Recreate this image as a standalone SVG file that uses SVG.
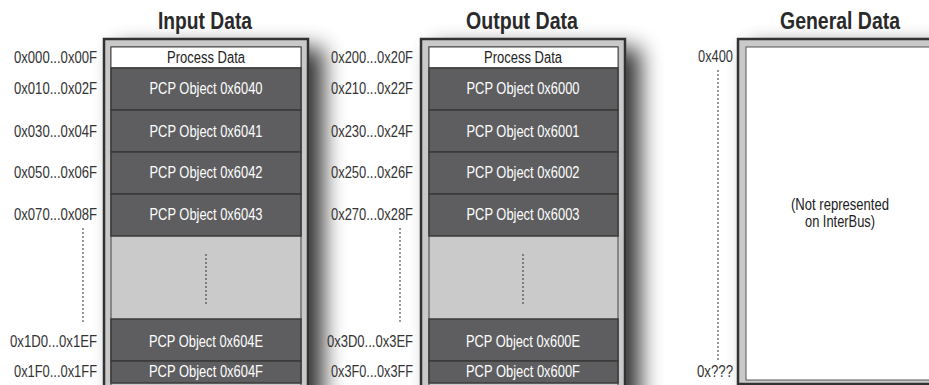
<svg xmlns="http://www.w3.org/2000/svg" width="929" height="385" viewBox="0 0 929 385">
<defs>
<filter id="sh" x="-20%" y="-20%" width="160%" height="160%">
<feGaussianBlur in="SourceAlpha" stdDeviation="11"/>
<feOffset dx="14" dy="10" result="b"/>
<feComponentTransfer><feFuncA type="linear" slope="0.8"/></feComponentTransfer>
<feMerge><feMergeNode/><feMergeNode in="SourceGraphic"/></feMerge>
</filter>
</defs>
<style>
text{font-family:"Liberation Sans",Arial,sans-serif;}
.title{font-size:24px;font-weight:bold;fill:#2a2a2a;text-anchor:middle;}
.lbl{font-size:16px;fill:#333;text-anchor:end;}
.frame{fill:#c9c9c9;stroke:#333;stroke-width:2.5;}
.inner{fill:#cacaca;stroke:#444;stroke-width:1;}
.pd{fill:#fff;stroke:#444;stroke-width:1;}
.row{fill:#5e5e60;stroke:#3a3a3a;stroke-width:1.5;}
.rt{font-size:16px;fill:#fff;text-anchor:middle;}
.pt{font-size:16px;fill:#222;text-anchor:middle;}
.dot{stroke:#333;stroke-width:1;stroke-dasharray:2,2;fill:none;}
</style>
<rect width="929" height="385" fill="#fff"/>
<text class="title" x="205" y="29" textLength="94" lengthAdjust="spacingAndGlyphs">Input Data</text>
<text class="title" x="522" y="29" textLength="112" lengthAdjust="spacingAndGlyphs">Output Data</text>
<text class="title" x="840" y="29" textLength="120" lengthAdjust="spacingAndGlyphs">General Data</text>

<g id="input">
<rect class="frame" x="104" y="39" width="204" height="360" filter="url(#sh)"/>
<rect class="inner" x="111" y="47" width="190" height="345"/>
<rect class="pd" x="111" y="47" width="190" height="21"/>
<text class="pt" x="206" y="63" textLength="78" lengthAdjust="spacingAndGlyphs">Process Data</text>
<rect class="row" x="111" y="68" width="190" height="42"/>
<text class="rt" x="206" y="94" textLength="113" lengthAdjust="spacingAndGlyphs">PCP Object 0x6040</text>
<rect class="row" x="111" y="110" width="190" height="42"/>
<text class="rt" x="206" y="137" textLength="113" lengthAdjust="spacingAndGlyphs">PCP Object 0x6041</text>
<rect class="row" x="111" y="152" width="190" height="42"/>
<text class="rt" x="206" y="178" textLength="113" lengthAdjust="spacingAndGlyphs">PCP Object 0x6042</text>
<rect class="row" x="111" y="194" width="190" height="42"/>
<text class="rt" x="206" y="220" textLength="113" lengthAdjust="spacingAndGlyphs">PCP Object 0x6043</text>
<line class="dot" x1="206" y1="254" x2="206" y2="305"/>
<rect class="row" x="111" y="319" width="190" height="42"/>
<text class="rt" x="206" y="347" textLength="114" lengthAdjust="spacingAndGlyphs">PCP Object 0x604E</text>
<rect class="row" x="111" y="361" width="190" height="22"/>
<text class="rt" x="206" y="377" textLength="114" lengthAdjust="spacingAndGlyphs">PCP Object 0x604F</text>
</g>

<g id="output">
<rect class="frame" x="421" y="39" width="204" height="360" filter="url(#sh)"/>
<rect class="inner" x="429" y="47" width="189" height="345"/>
<rect class="pd" x="429" y="47" width="189" height="21"/>
<text class="pt" x="523" y="63" textLength="78" lengthAdjust="spacingAndGlyphs">Process Data</text>
<rect class="row" x="429" y="68" width="189" height="42"/>
<text class="rt" x="523" y="94" textLength="113" lengthAdjust="spacingAndGlyphs">PCP Object 0x6000</text>
<rect class="row" x="429" y="110" width="189" height="42"/>
<text class="rt" x="523" y="137" textLength="113" lengthAdjust="spacingAndGlyphs">PCP Object 0x6001</text>
<rect class="row" x="429" y="152" width="189" height="42"/>
<text class="rt" x="523" y="178" textLength="113" lengthAdjust="spacingAndGlyphs">PCP Object 0x6002</text>
<rect class="row" x="429" y="194" width="189" height="42"/>
<text class="rt" x="523" y="220" textLength="113" lengthAdjust="spacingAndGlyphs">PCP Object 0x6003</text>
<line class="dot" x1="523" y1="254" x2="523" y2="305"/>
<rect class="row" x="429" y="319" width="189" height="42"/>
<text class="rt" x="523" y="347" textLength="114" lengthAdjust="spacingAndGlyphs">PCP Object 0x600E</text>
<rect class="row" x="429" y="361" width="189" height="22"/>
<text class="rt" x="523" y="377" textLength="114" lengthAdjust="spacingAndGlyphs">PCP Object 0x600F</text>
</g>

<g id="general">
<rect class="frame" x="738" y="39" width="220" height="345" filter="url(#sh)"/>
<rect x="746" y="47" width="200" height="333" fill="#fff" stroke="#555" stroke-width="1"/>
<text class="pt" x="840" y="210" textLength="98" lengthAdjust="spacingAndGlyphs">(Not represented</text>
<text class="pt" x="840" y="227" textLength="70" lengthAdjust="spacingAndGlyphs">on InterBus)</text>
</g>

<g id="labels">
<text class="lbl" x="97" y="63" textLength="83" lengthAdjust="spacingAndGlyphs">0x000...0x00F</text>
<text class="lbl" x="97" y="94" textLength="83" lengthAdjust="spacingAndGlyphs">0x010...0x02F</text>
<text class="lbl" x="97" y="137" textLength="83" lengthAdjust="spacingAndGlyphs">0x030...0x04F</text>
<text class="lbl" x="97" y="178" textLength="83" lengthAdjust="spacingAndGlyphs">0x050...0x06F</text>
<text class="lbl" x="97" y="220" textLength="83" lengthAdjust="spacingAndGlyphs">0x070...0x08F</text>
<text class="lbl" x="97" y="347" textLength="87" lengthAdjust="spacingAndGlyphs">0x1D0...0x1EF</text>
<text class="lbl" x="97" y="377" textLength="83" lengthAdjust="spacingAndGlyphs">0x1F0...0x1FF</text>
<text class="lbl" x="413" y="63" textLength="82" lengthAdjust="spacingAndGlyphs">0x200...0x20F</text>
<text class="lbl" x="413" y="94" textLength="82" lengthAdjust="spacingAndGlyphs">0x210...0x22F</text>
<text class="lbl" x="413" y="137" textLength="82" lengthAdjust="spacingAndGlyphs">0x230...0x24F</text>
<text class="lbl" x="413" y="178" textLength="82" lengthAdjust="spacingAndGlyphs">0x250...0x26F</text>
<text class="lbl" x="413" y="220" textLength="82" lengthAdjust="spacingAndGlyphs">0x270...0x28F</text>
<text class="lbl" x="413" y="347" textLength="86" lengthAdjust="spacingAndGlyphs">0x3D0...0x3EF</text>
<text class="lbl" x="413" y="377" textLength="82" lengthAdjust="spacingAndGlyphs">0x3F0...0x3FF</text>
<text class="lbl" x="733" y="62" textLength="35" lengthAdjust="spacingAndGlyphs">0x400</text>
<text class="lbl" x="733" y="377" textLength="36" lengthAdjust="spacingAndGlyphs">0x???</text>
</g>

<g id="connectors">
<line class="dot" x1="83" y1="228" x2="83" y2="322"/>
<line class="dot" x1="400" y1="228" x2="400" y2="322"/>
<line class="dot" x1="718" y1="70" x2="718" y2="360"/>
</g>
</svg>
